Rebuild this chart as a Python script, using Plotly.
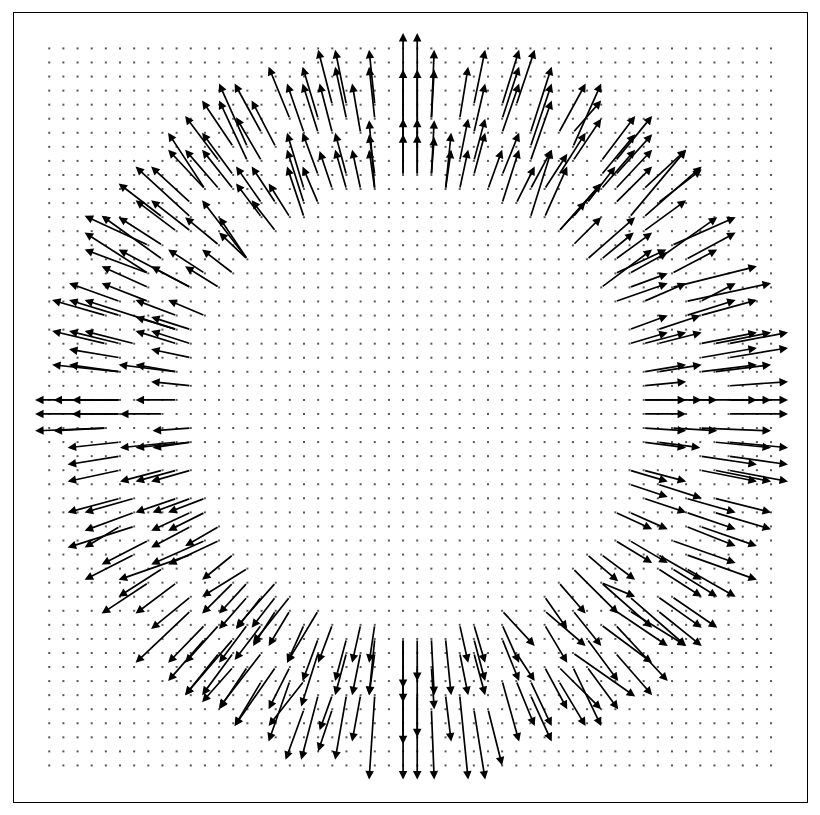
import plotly.graph_objects as go

# Grid of sample points (52 x 52), x = column, y = row counted from the bottom
n_cols = 52
n_rows = 52

# Non-zero vectors: tail position (x, y) and components (u, v)
# upper-left quadrant
ul_x = [17,18,19,19,20,20,21,21,22,23,23,25,25,25,25,18,18,18,19,19,21,21,20,22,23,23,23,
        13,14,15,16,14,12,15,13,11,11,12,13,15,16,17,15,16,14,14,14,10,10,8,9,10,12,13,12,11,
        7,8,8,7,7,7,10,10,5,7,4,5,9,9,11,9,10,4,5,6,9,10,5,10,5,5,9,9,10,5,5,5,9,8,5,5]
ul_y = [46,45,46,45,47,45,47,46,45,47,46,42,42,46,44,41,40,39,42,40,42,41,41,41,41,42,41,
        44,44,45,44,43,43,43,42,41,41,41,41,40,40,39,39,38,36,36,36,39,40,39,38,38,37,35,34,35,
        37,36,37,35,35,34,34,34,33,33,32,32,31,32,32,31,31,30,30,30,30,30,29,29,28,28,28,28,27,26,26,26,26,25,25,25]
ul_u = [-1.5,-1.2,-1.1,-1.1,-1.0,-0.9,-0.8,-0.8,-0.6,-0.4,-0.4,0,0,0,0,-1.2,-1.2,-1.2,-1.1,-1.1,-0.8,-0.8,-0.9,-0.6,-0.4,-0.4,-0.4,
        -2.2,-2,-1.9,-1.7,-2,-2.4,-1.8,-2.2,-2.6,-2.6,-2.4,-2.2,-1.8,-1.7,-1.5,-1.8,-1.7,-3.2,-2,-2,-3.9,-2.8,-3.1,-2.9,-2.8,-2.4,-2.2,-2.4,-2.6,
        -4.5,-4.3,-3.1,-4.5,-4.5,-3.3,-5.1,-2.8,-3.6,-3.3,-3.8,-3.6,-6.5,-2.9,-2.6,-2.9,-2.8,-3.8,-3.6,-3.5,-2.9,-2.8,-3.6,-2.8,-4.8,-3.6,-4.1,-2.9,-2.8,-6,-4.7,-3.4,-2.9,-3,-6,-3.4]
ul_v = [3.7,3.5,3.7,3.5,3.9,3.5,3.9,3.7,3.5,3.9,3.7,2.9,4,6.1,5.5,4,3.8,3.6,3,2.6,3,2.8,2.7,2.8,4.9,2.9,2.8,
        3.3,4.5,3.5,3.3,4.3,3.2,3.1,3,4,2.8,2.8,2.8,2.6,2.6,2.4,2.4,2.2,4.2,3,1.9,3.6,2.6,2.4,2.2,2.2,2,1.7,1.5,1.7,
        2.1,3.1,2,2.9,1.7,1.5,2.7,1.5,1.3,1.3,1.1,1.1,2.1,1.1,1.1,0.9,0.9,0.9,0.9,0.9,0.9,0.9,0.6,0.6,0.5,0.5,0.5,0.5,0.3,0,0,0,0,0,0,0]

# upper-right quadrant
ur_x = [26,26,26,26,27,27,27,27,28,28,29,29,29,30,30,30,30,31,32,32,32,33,32,32,33,34,34,34,34,34,35,36,37,37,37,36,36,37,
        39,39,40,40,40,40,39,38,39,40,41,42,42,43,42,40,39,41,41,40,42,43,44,44,45,46,45,44,45,46,41,43,41,42,43,46,47,48,46,48,
        42,43,46,47,42,48,42,42,45,48,48,46,42,48,35,36,38,37]
ur_y = [42,42,46,44,42,42,46,46,41,41,46,43,41,47,45,43,42,41,47,46,45,47,42,40,40,45,44,43,39,41,39,45,44,45,43,38,38,37,
        43,42,43,42,41,40,41,36,36,36,39,41,39,40,38,35,34,35,34,33,33,36,37,35,36,33,33,34,32,32,31,31,30,30,30,30,30,30,29,29,
        28,28,28,28,27,27,26,26,26,26,26,26,25,25,41,42,40,39]
ur_u = [0,0,0,0,0.2,0.2,0.2,0.2,0.4,0.4,0.6,0.6,0.6,0.8,0.8,0.8,0.8,1,1.2,1.2,1.2,1.3,1.2,1.2,1.3,1.5,1.5,1.5,1.5,1.5,1.6,1.9,2,2,2,1.9,3,2,
        2.4,2.4,2.6,2.6,2.6,2.6,2.4,3.4,2.3,2.6,4,3,4.1,3.1,3,3.6,3.6,2.7,2.7,3.7,3,4.2,4.5,3.2,3.5,2.5,6,6,3.5,4,2.7,3,2.7,3,3.1,4,4,4.2,4,4.2,
        3,3.1,4,4,3,4.2,3,4.1,2.2,3,4.2,4,3,4.2,1.6,1.9,2,2]
ur_v = [2.9,4,6.1,5.5,3.9,2.7,4.9,3.5,4,2.8,3.7,3,2.8,3.9,3.5,3,3,2.8,3.9,3.7,3.5,3.9,3,3.8,2.6,4.7,4.5,4.3,4.8,2.8,3.6,3.5,4.5,2.3,3,2.1,3.4,2,
        3.2,2.9,3.2,2.9,2.8,2.6,2.8,3,1.9,1.9,4.8,2.8,3.6,2.4,2.2,1.7,2.7,1.5,1,1.3,1.3,3,2,1.7,1.9,1.3,1.3,1.5,1.1,1.1,1,1,0.8,0.8,0.8,0.8,0.8,0.8,0.7,0.7,
        0.5,0.5,0.5,0.5,0.3,0.3,0,0,0,0,0,0,0,0,2.5,3,2.6,2.4]

# lower-left quadrant
ll_x = [4,4,10,5,9,10,10,5,5,8,9,10,5,6,9,10,11,6,10,11,5,6,12,10,7,11,12,6,10,13,8,14,7,9,14,13,16,10,14,15,17,10,16,17,19,
        11,12,18,20,22,23,13,19,21,23,25,25,25,25,13,15,21,22,23,16,14,17,17,18,15,19,21,22,23,20,18,19,20,14,15,16,13,11,12]
ll_y = [24,24,24,23,23,23,23,22,21,21,21,21,19,19,19,19,19,18,18,18,17,17,17,17,16,16,16,15,15,15,14,14,13,13,13,13,13,12,12,12,12,11,11,11,11,
        10,10,10,10,10,10,9,9,9,9,9,9,5,6,8,8,8,8,8,7,7,7,6,6,6,5,5,5,5,5,4,8,4,10,10,12,7,9,8]
ll_u = [-5,-3.7,-2.7,-3.7,-4,-3.9,-2.7,-3.7,-3.7,-3,-2.9,-2.8,-3.7,-3.5,-2.9,-2.7,-2.6,-3.5,-2.8,-2.6,-2.5,-4.7,-2.4,-2.8,-3.3,-3.8,-3.6,-3.5,-5.1,-2.2,
        -3.1,-3.2,-3.3,-2.9,-2,-2.2,-2.8,-2.8,-2,-1.8,-2.6,-3.9,-1.6,-1.5,-2.2,-2.6,-2.4,-1.2,-1,-0.6,-0.4,-3.4,-1.1,-0.8,-0.4,0,0,0,0,
        -2.2,-3,-0.8,-0.6,-0.4,-2.9,-2,-1.5,-1.5,-2.5,-1.9,-1.2,-0.8,-0.6,-0.4,-0.9,-1.3,-1.2,-1,-2,-1.9,-1.7,-2.2,-2.6,-2.4]
ll_v = [-0.2,-0.2,-0.2,-0.4,-0.4,-0.4,-0.4,-0.6,-0.8,-0.8,-0.8,-0.8,-1,-1,-1,-1,-1,-1.3,-1.3,-1.3,-1.5,-1.5,-1.4,-1.5,-1.7,-1.7,-1.7,-1.8,-1.8,-1.8,
        -2,-2,-2.2,-2.2,-2.2,-2.2,-3.2,-2.3,-2.3,-2.3,-3.3,-3.7,-2.5,-2.5,-3.7,-2.7,-2.7,-2.7,-2.7,-2.7,-2.7,-4,-3,-3,-4,-3.5,-4.5,-6,-4.5,
        -3,-3.9,-3,-3,-3,-4.2,-3,-3,-4.3,-3.2,-3.2,-4.6,-4.6,-3.3,-6,-2.5,-3.6,-3.8,-3,-2.7,-2.5,-2.2,-2.5,-3,-3]

# lower-right quadrant
lr_x = [42,44,46,42,43,47,48,46,48,41,42,46,47,48,41,43,42,45,47,40,41,45,47,45,46,40,41,44,38,39,43,45,37,43,44,45,36,39,39,
        43,44,35,41,37,40,43,32,35,39,40,35,29,30,38,32,28,27,26,30,37,40,33,29,38,35,37,36,32,33,34,28,29,26,30,31,27,32,34,30,36,41,26,27]
lr_y = [24,24,24,23,23,23,23,22,22,21,21,21,21,21,20,20,19,19,19,18,18,18,18,17,17,16,16,16,15,15,15,15,14,14,14,14,13,13,13,
        12,12,12,12,11,11,11,11,11,10,10,10,10,10,9,9,9,9,9,9,8,8,8,8,7,7,7,6,6,6,5,5,5,5,4,4,4,10,6,8,7,11,7,7]
lr_u = [3,3.2,5,3,3,4,4.2,4,4.2,2.7,3,4,4,4.2,2.7,3.1,3,3.5,4,2.6,2.7,3.5,4,3.5,4,2.6,2.7,4.5,2.2,2.4,3.1,5,3.2,3.1,3.2,3.5,1.9,2.4,3.6,
        3.1,3.2,1.6,4,2,3.7,3.1,2.3,2.9,3.6,3.7,1.6,0.6,0.8,2.2,1.2,0.4,0.2,0,0.8,4.4,2.6,1.3,0.6,2.2,1.6,2,1.9,1.2,1.3,1.5,0.4,0.6,0,0.8,1,0.2,1.2,1.5,0.8,3,4,0,0.2]
lr_v = [-0.2,-0.2,-0.2,-0.4,-0.4,-0.4,-0.4,-0.6,-0.6,-0.8,-0.8,-0.8,-0.8,-0.8,-0.9,-1,-1,-1,-1,-1.2,-1.2,-1.2,-1.2,-1.4,-1.4,-1.6,-1.6,-1.6,-1.9,-1.8,-1.8,-1.8,-3.2,-2,-2,-2,-2.2,-1,-3.2,
        -2.2,-2.2,-2.3,-3.5,-2.5,-2.5,-2.5,-2.5,-2.5,-2.7,-4,-2.7,-2.7,-2.7,-3,-3,-4,-4,-3,-3,-3.1,-3,-2,-3,-3,-3,-4.2,-3.2,-4.3,-3.2,-3.3,-3.3,-6,-6,-5,-4,-5,-2.7,-3.2,-3,-3,-2.5,-5,-3]

tail_x = ul_x + ur_x + ll_x + lr_x
tail_y = ul_y + ur_y + ll_y + lr_y
vec_u = ul_u + ur_u + ll_u + lr_u
vec_v = ul_v + ur_v + ll_v + lr_v

grid_x = [i for j in range(n_rows) for i in range(n_cols)]
grid_y = [j for j in range(n_rows) for i in range(n_cols)]

fig = go.Figure()
fig.add_trace(go.Scatter(
    x=grid_x, y=grid_y, mode="markers",
    marker=dict(size=2, color="#555555", symbol="square", line=dict(width=0)),
    hoverinfo="skip", showlegend=False))

annotations = []
for x0, y0, u, v in zip(tail_x, tail_y, vec_u, vec_v):
    annotations.append(dict(
        x=x0 + u, y=y0 + v, ax=x0, ay=y0,
        xref="x", yref="y", axref="x", ayref="y",
        text="", showarrow=True, arrowhead=2, arrowsize=1.0,
        arrowwidth=1.7, arrowcolor="black", standoff=0, startstandoff=0))

fig.update_layout(
    width=820, height=815,
    margin=dict(l=14, r=13, t=13, b=13),
    paper_bgcolor="white", plot_bgcolor="white",
    annotations=annotations,
    showlegend=False)
fig.update_xaxes(range=[-2.49, 53.54], showgrid=False, zeroline=False,
                 showticklabels=False, ticks="", showline=True, mirror=True,
                 linecolor="black", linewidth=1)
fig.update_yaxes(range=[-2.6, 53.52], showgrid=False, zeroline=False,
                 showticklabels=False, ticks="", showline=True, mirror=True,
                 linecolor="black", linewidth=1)

fig.write_html("out.html")
